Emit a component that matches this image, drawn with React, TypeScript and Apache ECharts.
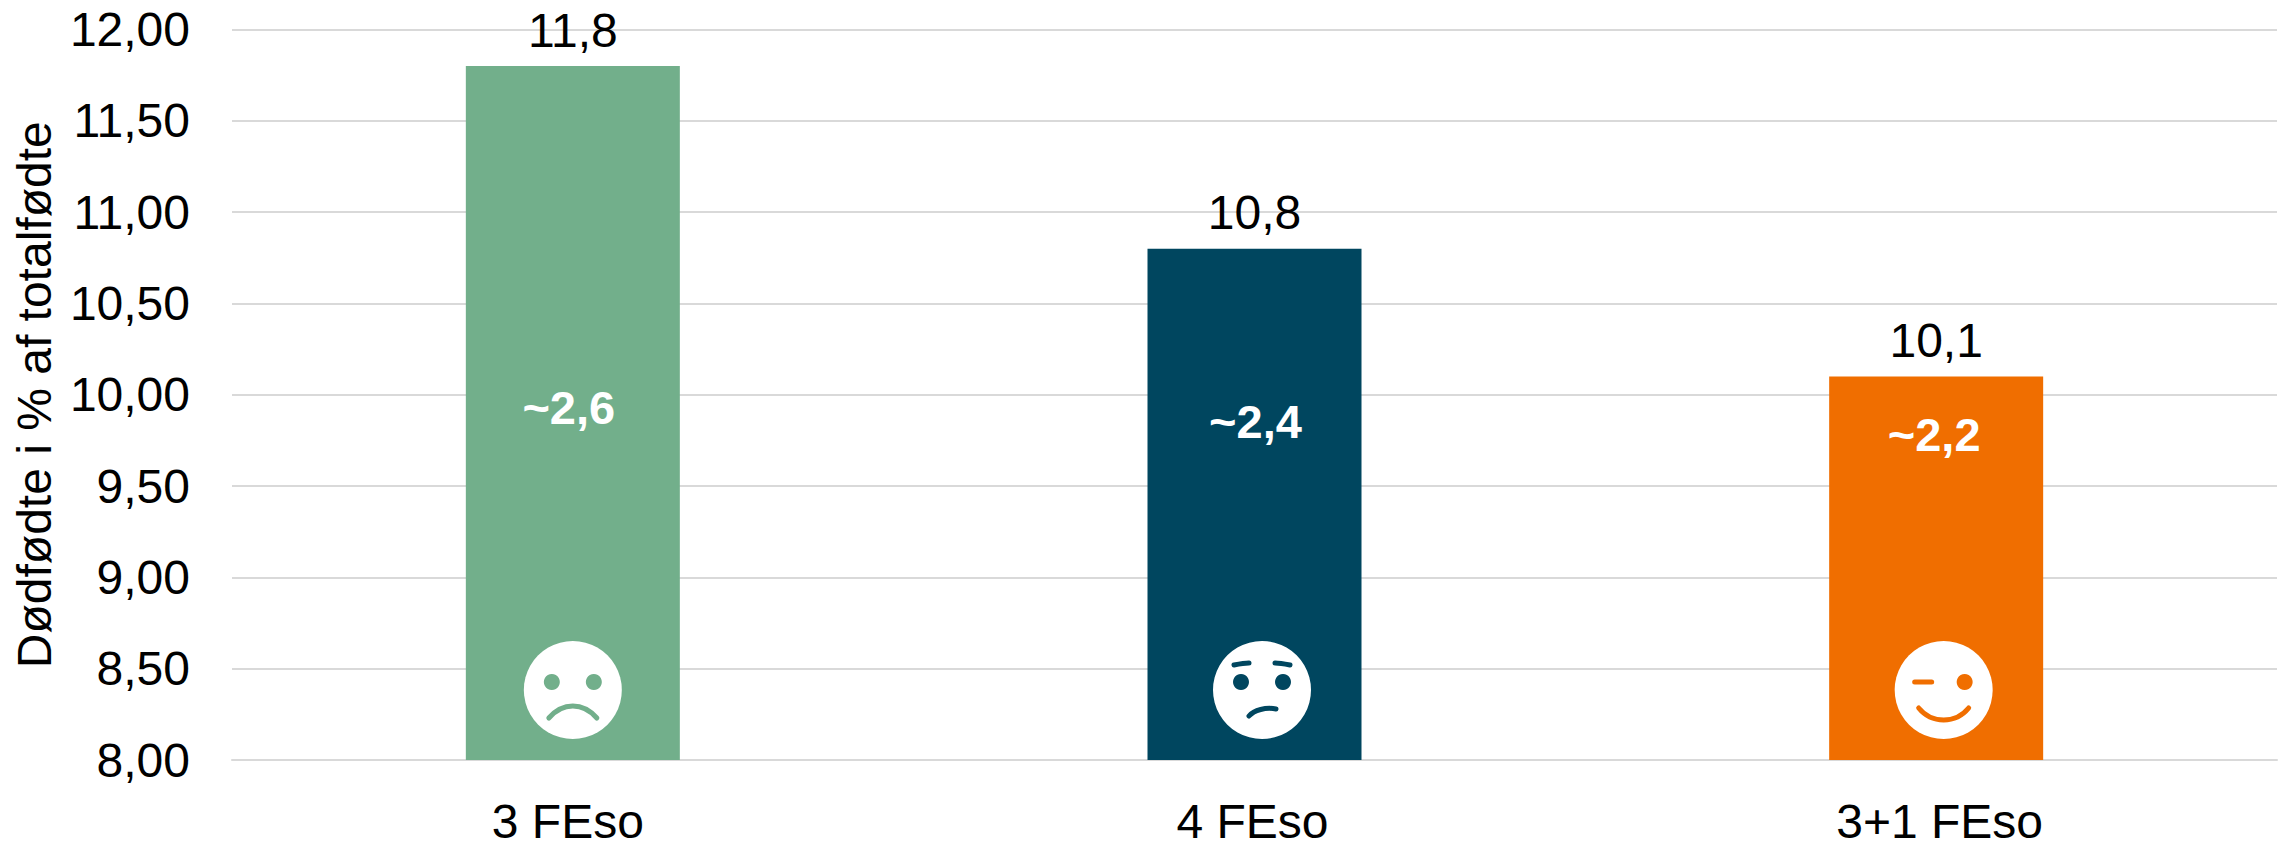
import React, { useEffect, useRef } from "react";
import * as echarts from "echarts";

const categories = ["3 FEso", "4 FEso", "3+1 FEso"];
const values = [11.8, 10.8, 10.1];
const valueLabels = ["11,8", "10,8", "10,1"];
const innerLabels = ["~2,6", "~2,4", "~2,2"];
const innerLabelAnchors = [9.93, 9.855, 9.78];
const innerLabelOffsets = [-4, 1, -2];
const categoryPadding = [[0, 10, 0, 0], [0, 4, 0, 0], [0, 0, 0, 7]];
const colors = ["#72AF8B", "#00465F", "#F06E00"];
const faces = ["sad", "worried", "wink"];
const faceOffsets = [0, 7.5, 7.5];
const FONT = '"Liberation Sans", Arial, sans-serif';

function faceShapes(face: string, cx: number, cy: number, color: string) {
  const r = 49;
  const line = (d: any) => ({
    type: "bezierCurve",
    shape: d,
    style: { stroke: color, lineWidth: 5, lineCap: "round", fill: "none" },
  });
  const eye = (x: number, y: number) => ({
    type: "circle",
    shape: { cx: cx + x, cy: cy + y, r: 8 },
    style: { fill: color },
  });
  const children: any[] = [
    { type: "circle", shape: { cx, cy, r }, style: { fill: "#FFFFFF" } },
  ];
  if (face === "sad") {
    children.push(
      eye(-21, -8),
      eye(21, -8),
      line({ x1: cx - 24, y1: cy + 28, x2: cx + 24, y2: cy + 28, cpx1: cx - 10, cpy1: cy + 12, cpx2: cx + 10, cpy2: cy + 12 })
    );
  } else if (face === "worried") {
    children.push(
      eye(-21, -8),
      eye(21, -8),
      line({ x1: cx - 28, y1: cy - 25, x2: cx - 13, y2: cy - 27, cpx1: cx - 23, cpy1: cy - 26, cpx2: cx - 18, cpy2: cy - 27 }),
      line({ x1: cx + 13, y1: cy - 27, x2: cx + 28, y2: cy - 25, cpx1: cx + 18, cpy1: cy - 27, cpx2: cx + 23, cpy2: cy - 26 }),
      line({ x1: cx - 13, y1: cy + 26, x2: cx + 14, y2: cy + 19, cpx1: cx - 8, cpy1: cy + 20, cpx2: cx + 4, cpy2: cy + 17 })
    );
  } else {
    children.push(
      eye(21, -8),
      line({ x1: cx - 29, y1: cy - 8, x2: cx - 12, y2: cy - 8, cpx1: cx - 23, cpy1: cy - 8, cpx2: cx - 17, cpy2: cy - 8 }),
      line({ x1: cx - 25, y1: cy + 18, x2: cx + 25, y2: cy + 18, cpx1: cx - 12, cpy1: cy + 34, cpx2: cx + 12, cpy2: cy + 34 })
    );
  }
  return { type: "group", children };
}

export default function App() {
  const ref = useRef<HTMLDivElement>(null);
  useEffect(() => {
    const chart = echarts.init(ref.current!, undefined, { renderer: "svg" });
    const rich: any = {};
    categoryPadding.forEach((padding, i) => {
      rich["c" + i] = { color: "#000000", fontFamily: FONT, fontSize: 48, lineHeight: 40, padding };
    });
    chart.setOption({
      animation: false,
      backgroundColor: "#FFFFFF",
      grid: { left: 232, right: 7, top: 29.5, bottom: 82, containLabel: false, outerBoundsMode: "none" },
      xAxis: {
        type: "category",
        data: categories,
        axisTick: { show: false },
        axisLine: { show: true, lineStyle: { color: "#D9D9D9", width: 2 } },
        axisLabel: {
          color: "#000000",
          fontFamily: FONT,
          fontSize: 48,
          lineHeight: 40,
          margin: 41,
          formatter: (v: string, i: number) => `{c${i}|${v}}`,
          rich,
        },
      },
      yAxis: {
        type: "value",
        min: 8,
        max: 12,
        interval: 0.5,
        name: "Dødfødte i % af totalfødte",
        nameLocation: "middle",
        nameGap: 169,
        nameRotate: 90,
        nameTextStyle: { color: "#000000", fontFamily: FONT, fontSize: 48 },
        axisLine: { show: false },
        axisTick: { show: false },
        splitLine: { lineStyle: { color: "#D9D9D9", width: 2 } },
        axisLabel: {
          color: "#000000",
          fontFamily: FONT,
          fontSize: 48,
          margin: 42,
          formatter: (v: number) => v.toFixed(2).replace(".", ","),
        },
      },
      series: [
        {
          type: "bar",
          barWidth: 214,
          data: values.map((value, i) => ({
            value,
            itemStyle: { color: colors[i] },
            label: {
              show: true,
              position: "top",
              distance: 12,
              formatter: valueLabels[i],
              color: "#000000",
              fontFamily: FONT,
              fontSize: 48,
            },
          })),
        },
        {
          type: "custom",
          data: categories.map((_, i) => [i, innerLabelAnchors[i]]),
          encode: { x: 0, y: 1 },
          z: 5,
          renderItem: (params: any, api: any) => {
            const i = params.dataIndex;
            const [x, y] = api.coord([api.value(0), api.value(1)]);
            const [, base] = api.coord([api.value(0), 8]);
            return {
              type: "group",
              children: [
                {
                  type: "text",
                  style: {
                    x: x + innerLabelOffsets[i],
                    y,
                    text: innerLabels[i],
                    fill: "#FFFFFF",
                    font: `bold 47px ${FONT}`,
                    align: "center",
                    verticalAlign: "middle",
                  },
                },
                faceShapes(faces[i], x + faceOffsets[i], base - 70, colors[i]),
              ],
            };
          },
        },
      ],
    });
    return () => chart.dispose();
  }, []);
  return <div ref={ref} style={{ position: "absolute", left: 0, top: 0, width: 2284, height: 842 }} />;
}
